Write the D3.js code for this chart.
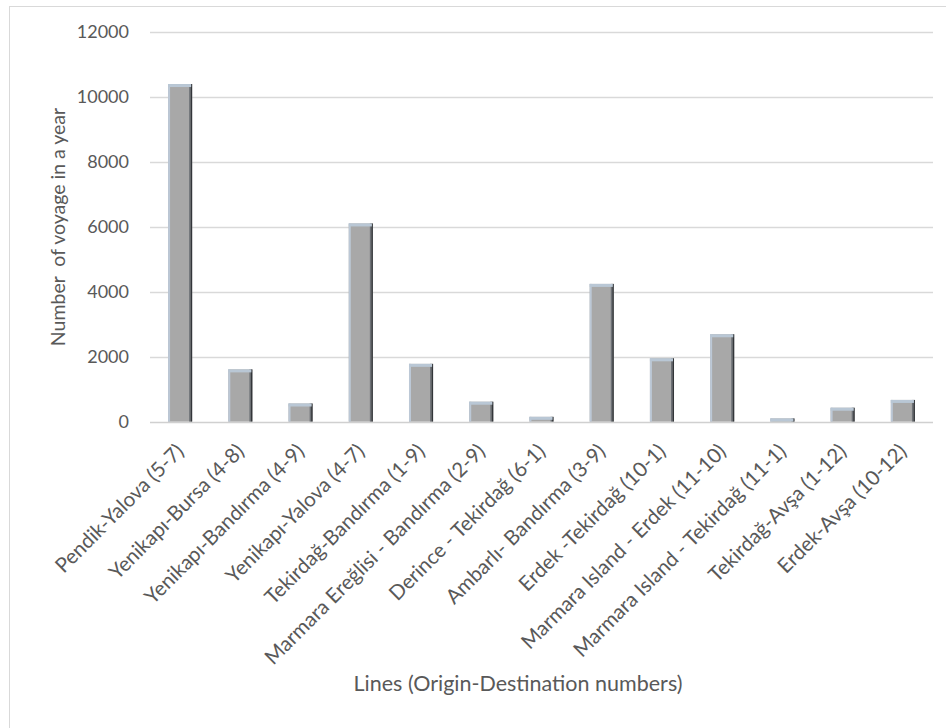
<!DOCTYPE html>
<html>
<head>
<meta charset="utf-8">
<script src="https://cdn.jsdelivr.net/npm/d3@7"></script>
<style>
  html, body { margin: 0; padding: 0; background: #fff; }
  svg { display: block; }
  text { font-family: Lato, "Open Sans", sans-serif; fill: #595959; }
</style>
</head>
<body>
<svg id="chart" width="946" height="728"></svg>
<script>
// Ferry lines (origin-destination) and yearly voyage counts
const lines = [
  "Pendik-Yalova (5-7)",
  "Yenikapı-Bursa (4-8)",
  "Yenikapı-Bandırma (4-9)",
  "Yenikapı-Yalova (4-7)",
  "Tekirdağ-Bandırma (1-9)",
  "Marmara Ereğlisi - Bandırma (2-9)",
  "Derince - Tekirdağ (6-1)",
  "Ambarlı- Bandırma (3-9)",
  "Erdek -Tekirdağ (10-1)",
  "Marmara Island - Erdek (11-10)",
  "Marmara Island - Tekirdağ (11-1)",
  "Tekirdağ-Avşa (1-12)",
  "Erdek-Avşa (10-12)"
];
const voyages = [10390, 1610, 560, 6100, 1780, 615, 150, 4240, 1950, 2690, 100, 430, 670];
const yTicks = [0, 2000, 4000, 6000, 8000, 10000, 12000];

const FONT = "Lato, \"Open Sans\", sans-serif";
const svg = d3.select("#chart");

// outer chart frame
svg.append("rect")
  .attr("x", 9.5).attr("y", 6.5)
  .attr("width", 946).attr("height", 740)
  .attr("fill", "none").attr("stroke", "#d9d9d9").attr("stroke-width", 1);

const plot = { left: 150, right: 933, top: 31.7, bottom: 421.7 };

const x = d3.scaleBand()
  .domain(lines)
  .range([plot.left, plot.right])
  .paddingInner(0.6).paddingOuter(0.3);

const y = d3.scaleLinear()
  .domain([0, 12000])
  .range([plot.bottom, plot.top]);

// horizontal gridlines
svg.append("g")
  .selectAll("line")
  .data(yTicks.filter(t => t > 0))
  .join("line")
  .attr("x1", plot.left).attr("x2", plot.right)
  .attr("y1", d => Math.round(y(d)) + 0.5).attr("y2", d => Math.round(y(d)) + 0.5)
  .attr("stroke", "#d9d9d9").attr("stroke-width", 1.5);

// y tick labels
const yAxis = d3.axisLeft(y).tickValues(yTicks).tickSize(0).tickPadding(0).tickFormat(d3.format("d"));
const gy = svg.append("g")
  .attr("transform", `translate(129,0)`)
  .call(yAxis);
gy.select(".domain").remove();
gy.selectAll("text")
  .style("font-family", FONT)
  .style("font-size", "18px")
  .attr("fill", "#595959");

// bars with a subtle bevel: light left/top edge, dark right edge
const bars = svg.append("g").selectAll("g")
  .data(lines.map((l, i) => ({ line: l, value: voyages[i] })))
  .join("g");

bars.append("rect")
  .attr("x", d => x(d.line))
  .attr("y", d => y(d.value))
  .attr("width", x.bandwidth())
  .attr("height", d => y(0) - y(d.value))
  .attr("fill", "#a8a8a8");

bars.append("rect")
  .attr("x", d => x(d.line))
  .attr("y", d => y(d.value))
  .attr("width", 2)
  .attr("height", d => y(0) - y(d.value))
  .attr("fill", "#bcc8d6");

bars.append("rect")
  .attr("x", d => x(d.line) + x.bandwidth() - 3)
  .attr("y", d => y(d.value))
  .attr("width", 1.5)
  .attr("height", d => y(0) - y(d.value))
  .attr("fill", "#6d7176");

bars.append("rect")
  .attr("x", d => x(d.line) + x.bandwidth() - 1.5)
  .attr("y", d => y(d.value))
  .attr("width", 1.5)
  .attr("height", d => y(0) - y(d.value))
  .attr("fill", "#33363a");

bars.append("rect")
  .attr("x", d => x(d.line))
  .attr("y", d => y(d.value))
  .attr("width", x.bandwidth() - 1)
  .attr("height", d => Math.min(3, y(0) - y(d.value)))
  .attr("fill", "#b9c7d5");

// category axis line
svg.append("line")
  .attr("x1", plot.left).attr("x2", plot.right)
  .attr("y1", Math.round(plot.bottom) + 0.5).attr("y2", Math.round(plot.bottom) + 0.5)
  .attr("stroke", "#d0d0d0").attr("stroke-width", 1.5);

// rotated category labels
const xAxis = d3.axisBottom(x).tickSize(0).tickPadding(0);
const gx = svg.append("g")
  .attr("transform", `translate(0,${plot.bottom})`)
  .call(xAxis);
gx.select(".domain").remove();
gx.selectAll("text")
  .style("font-family", FONT)
  .style("font-size", "20.5px")
  .attr("fill", "#595959")
  .attr("text-anchor", "end")
  .attr("dy", null)
  .attr("y", 0)
  .attr("transform", "translate(5,31) rotate(-45)");

// axis titles
svg.append("text")
  .attr("x", 518).attr("y", 691)
  .attr("text-anchor", "middle")
  .style("font-size", "21.5px")
  .text("Lines (Origin-Destination numbers)");

svg.append("text")
  .attr("transform", "translate(65,227) rotate(-90)")
  .attr("text-anchor", "middle")
  .style("font-size", "19.5px")
  .style("white-space", "pre")
  .text("Number  of voyage in a year");
</script>
</body>
</html>
